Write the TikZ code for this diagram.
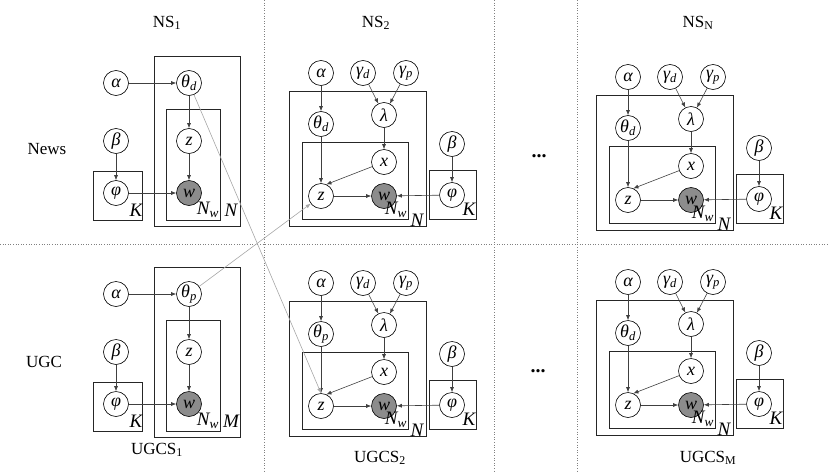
\documentclass[tikz,border=0pt]{standalone}
\usepackage{fontspec}
\setmainfont{Liberation Serif}
\usetikzlibrary{arrows.meta}

\tikzset{
 var/.style={circle, draw=black, line width=0.6pt, minimum size=25pt, inner sep=0pt,
   font=\fontsize{18}{18}\selectfont\itshape, fill=white},
 obs/.style={var, fill=black!45},
 plate/.style={draw=black!85, line width=1pt},
 edge/.style={draw=black!75, line width=0.6pt, -{Latex[length=5pt,width=4pt]}},
 cross/.style={draw=black!35, line width=0.6pt, -{Latex[length=5pt,width=4pt]}},
 platelab/.style={font=\fontsize{19}{19}\selectfont\itshape, inner sep=0pt},
 title/.style={font=\fontsize{17}{17}\selectfont, inner sep=0pt},
 divider/.style={draw=black!50, dotted, line width=0.6pt},
 dots/.style={font=\fontsize{20}{20}\selectfont\bfseries, inner sep=0pt},
}

% simple LDA panel: prefix, x, y, theta subscript, outer plate label
\newcommand{\ldaA}[5]{%
\begin{scope}[shift={(#2,#3)}]
 \draw[plate] (38,-27) rectangle (124,143);
 \draw[plate] (50,26) rectangle (104,137);
 \draw[plate] (-23,88) rectangle (26,137);
 \node[var] (#1al) at (0,0) {α};
 \node[var] (#1th) at (73,0) {θ\textsubscript{#4}};
 \node[var] (#1be) at (0,58) {β};
 \node[var] (#1z) at (73,58) {z};
 \node[var] (#1ph) at (0,110) {φ};
 \node[obs] (#1w) at (73,110) {w};
 \node[platelab] (#1lk) at (20,127) {K};
 \node[platelab] (#1lnw) at (92,127) {N\textsubscript{w}};
 \node[platelab] (#1ln) at (115,127) {#5};
 \draw[edge] (#1al) -- (#1th);
 \draw[edge] (#1th) -- (#1z);
 \draw[edge] (#1z) -- (#1w);
 \draw[edge] (#1be) -- (#1ph);
 \draw[edge] (#1ph) -- (#1w);
\end{scope}}

% extended panel: prefix, x, y, theta subscript
\newcommand{\ldaB}[4]{%
\begin{scope}[shift={(#2,#3)}]
 \draw[plate] (-32,18) rectangle (105,153);
 \draw[plate] (-19,69) rectangle (87,146);
 \draw[plate] (108,97) rectangle (155,146);
 \node[var] (#1al) at (0,0) {α};
 \node[var] (#1gd) at (42,0) {γ\textsubscript{d}};
 \node[var] (#1gp) at (85,0) {γ\textsubscript{p}};
 \node[var] (#1th) at (0,51) {θ\textsubscript{#4}};
 \node[var] (#1la) at (63,42) {λ};
 \node[var] (#1x) at (63,89) {x};
 \node[var] (#1z) at (0,123) {z};
 \node[obs] (#1w) at (63,123) {w};
 \node[var] (#1be) at (131,71) {β};
 \node[var] (#1ph) at (131,122) {φ};
 \node[platelab] (#1lnw) at (75,137) {N\textsubscript{w}};
 \node[platelab] (#1ln) at (96,147) {N};
 \node[platelab] (#1lk) at (148,136) {K};
 \draw[edge] (#1al) -- (#1th);
 \draw[edge] (#1th) -- (#1z);
 \draw[edge] (#1gd) -- (#1la);
 \draw[edge] (#1gp) -- (#1la);
 \draw[edge] (#1la) -- (#1x);
 \draw[edge] (#1x) -- (#1z.65);
 \draw[edge] (#1z) -- (#1w);
 \draw[edge] (#1be) -- (#1ph);
 \draw[edge] (#1ph) -- (#1w);
\end{scope}}

\begin{document}
\begin{tikzpicture}[x=1pt,y=-1pt]
\useasboundingbox (0,0) rectangle (829,471);
% dividers
\coordinate (h0) at (0,244);   \coordinate (h1) at (829,244);
\coordinate (v1a) at (264,0);  \coordinate (v1b) at (264,471);
\coordinate (v2a) at (494,0);  \coordinate (v2b) at (494,471);
\coordinate (v3a) at (577,0);  \coordinate (v3b) at (577,471);
\draw[divider] (h0) -- (h1);
\draw[divider] (v1a) -- (v1b);
\draw[divider] (v2a) -- (v2b);
\draw[divider] (v3a) -- (v3b);

% titles
\node[title] (tns1) at (167,23) {NS\textsubscript{1}};
\node[title] (tns2) at (376,23) {NS\textsubscript{2}};
\node[title] (tnsn) at (698,23) {NS\textsubscript{N}};
\node[title] (tug1) at (157,450) {UGCS\textsubscript{1}};
\node[title] (tug2) at (380,458) {UGCS\textsubscript{2}};
\node[title] (tugm) at (708,458) {UGCS\textsubscript{M}};
\node[title] (news) at (47,149) {News};
\node[title] (ugc) at (44,362) {UGC};
\node[dots] (d1) at (539,156) {...};
\node[dots] (d2) at (538,371) {...};

% panels
\ldaA{nsa}{116}{83}{d}{N}
\ldaA{uga}{116}{294}{p}{M}
\ldaB{nsb}{321}{73}{d}
\ldaB{ugb}{321}{283}{p}
\ldaB{nsn}{628}{77}{d}
\ldaB{ugm}{628}{282}{d}

% cross connections
\draw[cross] (nsath) -- (ugbz.north);
\draw[cross] (ugath) -- (nsbz);
\end{tikzpicture}
\end{document}
